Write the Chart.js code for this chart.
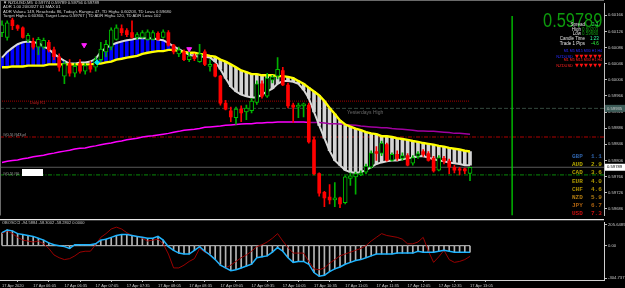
<!DOCTYPE html>
<html><head><meta charset="utf-8">
<script src="https://cdn.jsdelivr.net/npm/chart.js@4.4.1/dist/chart.umd.min.js"></script>
<style>
html,body{margin:0;padding:0;background:#000;width:625px;height:288px;overflow:hidden}
#wrap{position:relative;width:625px;height:288px;background:#000}
canvas{position:absolute;left:0}
.t{position:absolute;white-space:pre;line-height:1;font-family:"Liberation Sans",Arial,sans-serif;z-index:2}
.m{font-family:"Liberation Mono","DejaVu Sans Mono",monospace;font-weight:bold;font-size:6px}
</style></head><body>
<div id="wrap">
<canvas id="main" width="625" height="219" style="top:0;width:625px;height:219px"></canvas>
<canvas id="sub" width="625" height="69" style="top:219px;width:625px;height:69px"></canvas>

<div class="t" style="left:3px;top:1px;font-size:4.2px;color:#d8d8d8">▼ NZDUSD,M5  0.59774 0.59789 0.59756 0.59789</div>
<div class="t" style="left:3px;top:5.3px;font-size:4.2px;color:#d8d8d8">ADR 1.00 20/03/27 01 MAX 01</div>
<div class="t" style="left:3px;top:9.5px;font-size:4.2px;color:#d8d8d8">ADR Value= 149, Reached= 86, Today's Range= 47, TD High= 0.60203, TD Low= 0.59680</div>
<div class="t" style="left:3px;top:13.5px;font-size:4.2px;color:#d8d8d8">Target High= 0.60360, Target Low= 0.59767 | TD ADR High= 120, TD ADR Low= 102</div>

<div class="t" style="right:23px;top:9.5px;font-size:20px;color:#0d9a0d;transform:scaleX(0.82);transform-origin:right top">0.59789</div>
<div class="t" style="right:40px;top:23px;font-size:4.5px;color:#e0e0e0">Spread</div>
<div class="t" style="left:592px;top:23px;font-size:4.5px;color:#30ff60">2.3</div>
<div class="t" style="right:44px;top:27.7px;font-size:4.5px;color:#e0e0e0">High</div>
<div class="t" style="left:582px;top:27.7px;font-size:4.5px;color:#109a10">0.60203</div>
<div class="t" style="right:44px;top:32px;font-size:4.5px;color:#e0e0e0">Low</div>
<div class="t" style="left:582px;top:32px;font-size:4.5px;color:#109a10">0.59680</div>
<div class="t" style="right:40px;top:37px;font-size:4.5px;color:#e0e0e0">Candle Time</div>
<div class="t" style="left:590px;top:37px;font-size:4.5px;color:#30ffa0">1:23</div>
<div class="t" style="right:40px;top:42px;font-size:4.5px;color:#e0e0e0">Trade 1 Pips</div>
<div class="t" style="left:591px;top:42px;font-size:4.5px;color:#30ff40">-4.6</div>

<div class="t" style="right:23px;top:50px;font-size:3.6px;color:#2a2aff">M1 M5 M15 M30 H1 H4</div>
<div class="t" style="right:52px;top:54.5px;font-size:4px;color:#2a2aff">NZDUSD</div>
<div class="t" style="left:575px;top:53.5px;font-size:5px;color:#ff1010;letter-spacing:0.7px;font-family:'DejaVu Sans'">▼▼▼▼▼▼</div>
<div class="t" style="right:23px;top:59px;font-size:3.6px;color:#ff2020">M1 M5 M15 M30 H1 H4</div>
<div class="t" style="right:52px;top:63.5px;font-size:4px;color:#ff2020">NZDUSD</div>
<div class="t" style="left:575px;top:62.5px;font-size:5px;color:#ff1010;letter-spacing:0.7px;font-family:'DejaVu Sans'">▼▼▼▼▼▼</div>

<div class="t m" style="left:572px;top:154px;color:#2f62a8">GBP</div><div class="t m" style="left:591px;top:154px;color:#2f62a8">1.1</div>
<div class="t m" style="left:572px;top:162.2px;color:#b0a400">AUD</div><div class="t m" style="left:591px;top:162.2px;color:#b0a400">2.9</div>
<div class="t m" style="left:572px;top:170.4px;color:#b0a000">CAD</div><div class="t m" style="left:591px;top:170.4px;color:#b0a000">3.6</div>
<div class="t m" style="left:572px;top:178.6px;color:#b09a00">EUR</div><div class="t m" style="left:591px;top:178.6px;color:#b09a00">4.0</div>
<div class="t m" style="left:572px;top:186.8px;color:#b09000">CHF</div><div class="t m" style="left:591px;top:186.8px;color:#b09000">4.6</div>
<div class="t m" style="left:572px;top:195px;color:#b07a10">NZD</div><div class="t m" style="left:591px;top:195px;color:#b07a10">5.9</div>
<div class="t m" style="left:572px;top:203.2px;color:#b06410">JPY</div><div class="t m" style="left:591px;top:203.2px;color:#b06410">6.7</div>
<div class="t m" style="left:572px;top:211.4px;color:#c81010">USD</div><div class="t m" style="left:591px;top:211.4px;color:#c81010">7.3</div>

<div class="t" style="left:30px;top:100.5px;font-size:4px;color:#c81e1e">Daily R1</div>
<div class="t" style="left:347px;top:109.5px;font-size:5px;color:#6a6a6a">Yesterdays High</div>
<div class="t" style="left:3px;top:133px;font-size:4px;color:#a8a8a8">#(0,5)#(43,pl</div>
<div class="t" style="left:3px;top:172px;font-size:4px;color:#a8a8a8">#(0,5)#(0</div>
<div style="position:absolute;left:22px;top:169px;width:21px;height:7px;background:#fff;z-index:2"></div>
<div class="t" style="left:2px;top:221px;font-size:4px;color:#c8c8c8">OBOSCCI -94.5884 -58.3002 -58.2802 0.0000</div>
</div>
<script>
// ---------- DATA ----------
const opens = [0.60123,0.60111,0.60154,0.60140,0.60135,0.60104,0.60101,0.60087,0.60087,0.60099,
0.60080,0.60063,0.60015,0.60046,0.60022,0.60046,0.60027,0.60041,0.60037,0.60056,
0.60075,0.60087,0.60106,0.60133,0.60128,0.60123,0.60111,0.60111,0.60106,0.60106,
0.60121,0.60111,0.60123,0.60092,0.60070,0.60075,0.60056,0.60065,0.60051,0.60075,
0.60039,0.60044,0.60015,0.59948,0.59929,0.59912,0.59933,0.59926,0.59929,0.59950,
0.59996,0.59965,0.60005,0.60015,0.60029,0.59993,0.59943,0.59938,0.59941,0.59943,
0.59857,0.59773,0.59727,0.59715,0.59708,0.59713,0.59701,0.59761,0.59765,0.59770,
0.59777,0.59789,0.59828,0.59823,0.59845,0.59806,0.59821,0.59811,0.59818,0.59799,
0.59816,0.59828,0.59823,0.59811,0.59782,0.59811,0.59804,0.59789,0.59785,0.59785,
0.59774];
const highs = [0.60152,0.60152,0.60159,0.60142,0.60137,0.60121,0.60109,0.60111,0.60109,0.60104,
0.60087,0.60070,0.60051,0.60056,0.60046,0.60056,0.60046,0.60051,0.60063,0.60099,
0.60104,0.60135,0.60142,0.60142,0.60133,0.60152,0.60123,0.60128,0.60130,0.60128,
0.60125,0.60130,0.60128,0.60094,0.60087,0.60080,0.60075,0.60070,0.60094,0.60080,
0.60056,0.60046,0.60017,0.59955,0.59938,0.59938,0.59941,0.59943,0.59960,0.60003,
0.60003,0.60022,0.60017,0.60061,0.60037,0.59998,0.59948,0.59948,0.59948,0.59948,
0.59864,0.59775,0.59729,0.59746,0.59751,0.59715,0.59768,0.59775,0.59777,0.59780,
0.59797,0.59830,0.59840,0.59854,0.59849,0.59825,0.59830,0.59825,0.59823,0.59818,
0.59828,0.59833,0.59828,0.59816,0.59818,0.59816,0.59809,0.59794,0.59789,0.59787,
0.59789];
const lows = [0.60113,0.60104,0.60130,0.60128,0.60109,0.60099,0.60082,0.60068,0.60082,0.60075,
0.60056,0.60027,0.59996,0.60015,0.60013,0.60022,0.60020,0.60025,0.60027,0.60051,
0.60063,0.60080,0.60104,0.60116,0.60113,0.60109,0.60106,0.60109,0.60104,0.60104,
0.60104,0.60109,0.60089,0.60070,0.60063,0.60053,0.60051,0.60053,0.60049,0.60041,
0.60027,0.60013,0.59943,0.59931,0.59902,0.59895,0.59902,0.59907,0.59924,0.59945,
0.59960,0.59962,0.59998,0.60008,0.59991,0.59936,0.59900,0.59912,0.59914,0.59849,
0.59770,0.59717,0.59691,0.59698,0.59691,0.59689,0.59698,0.59744,0.59722,0.59768,
0.59773,0.59787,0.59806,0.59818,0.59804,0.59804,0.59806,0.59806,0.59792,0.59794,
0.59811,0.59816,0.59804,0.59777,0.59780,0.59797,0.59773,0.59775,0.59770,0.59773,
0.59756];
const closes = [0.60142,0.60147,0.60140,0.60133,0.60111,0.60116,0.60087,0.60106,0.60104,0.60080,
0.60063,0.60037,0.60046,0.60022,0.60039,0.60027,0.60041,0.60032,0.60056,0.60082,
0.60094,0.60130,0.60135,0.60123,0.60118,0.60111,0.60118,0.60123,0.60125,0.60123,
0.60106,0.60125,0.60092,0.60075,0.60080,0.60056,0.60065,0.60058,0.60070,0.60044,
0.60044,0.60015,0.59948,0.59933,0.59914,0.59933,0.59924,0.59936,0.59953,0.59996,
0.59965,0.60010,0.60013,0.60032,0.59993,0.59941,0.59938,0.59943,0.59945,0.59852,
0.59773,0.59725,0.59713,0.59708,0.59713,0.59698,0.59765,0.59768,0.59773,0.59775,
0.59792,0.59825,0.59823,0.59849,0.59806,0.59821,0.59811,0.59818,0.59794,0.59813,
0.59823,0.59821,0.59806,0.59780,0.59813,0.59804,0.59789,0.59782,0.59782,0.59780,
0.59789];
const fastMA = [0.60061,0.60075,0.60085,0.60094,0.60099,0.60101,0.60099,0.60097,0.60089,0.60082,
0.60070,0.60061,0.60053,0.60046,0.60046,0.60049,0.60049,0.60051,0.60058,0.60075,
0.60085,0.60092,0.60097,0.60101,0.60104,0.60106,0.60109,0.60109,0.60109,0.60109,
0.60106,0.60104,0.60097,0.60089,0.60082,0.60075,0.60068,0.60065,0.60063,0.60063,
0.60061,0.60051,0.60032,0.60010,0.59989,0.59977,0.59969,0.59965,0.59962,0.59962,
0.59969,0.59977,0.59984,0.59996,0.60003,0.60003,0.60001,0.59996,0.59981,0.59960,
0.59926,0.59893,0.59861,0.59830,0.59806,0.59794,0.59782,0.59777,0.59775,0.59777,
0.59782,0.59789,0.59797,0.59801,0.59804,0.59806,0.59806,0.59809,0.59811,0.59813,
0.59816,0.59816,0.59813,0.59809,0.59806,0.59804,0.59801,0.59799,0.59797,0.59794,
0.59794];
const slowMA = [0.60037,0.60037,0.60039,0.60039,0.60039,0.60041,0.60041,0.60041,0.60041,0.60044,
0.60044,0.60044,0.60044,0.60044,0.60044,0.60044,0.60044,0.60044,0.60046,0.60046,
0.60049,0.60051,0.60056,0.60058,0.60061,0.60063,0.60065,0.60070,0.60073,0.60075,
0.60077,0.60077,0.60080,0.60080,0.60077,0.60075,0.60073,0.60073,0.60070,0.60068,
0.60065,0.60063,0.60056,0.60051,0.60044,0.60037,0.60029,0.60025,0.60020,0.60020,
0.60017,0.60017,0.60017,0.60015,0.60015,0.60013,0.60010,0.60003,0.59996,0.59986,
0.59977,0.59967,0.59953,0.59936,0.59921,0.59905,0.59895,0.59890,0.59885,0.59881,
0.59876,0.59873,0.59871,0.59866,0.59866,0.59864,0.59861,0.59859,0.59857,0.59854,
0.59852,0.59849,0.59847,0.59845,0.59842,0.59840,0.59837,0.59835,0.59833,0.59830,
0.59828];
const longMA = [0.59801,0.59804,0.59806,0.59807,0.59810,0.59812,0.59815,0.59817,0.59819,0.59822,
0.59824,0.59827,0.59829,0.59831,0.59834,0.59836,0.59837,0.59840,0.59842,0.59845,
0.59847,0.59849,0.59852,0.59854,0.59857,0.59859,0.59861,0.59864,0.59866,0.59867,
0.59869,0.59871,0.59873,0.59876,0.59878,0.59881,0.59882,0.59883,0.59885,0.59888,
0.59889,0.59890,0.59891,0.59893,0.59894,0.59895,0.59896,0.59897,0.59897,0.59899,
0.59899,0.59900,0.59900,0.59901,0.59901,0.59901,0.59901,0.59901,0.59901,0.59900,
0.59900,0.59900,0.59899,0.59897,0.59897,0.59896,0.59895,0.59894,0.59893,0.59891,
0.59890,0.59889,0.59888,0.59887,0.59887,0.59885,0.59884,0.59883,0.59882,0.59881,
0.59879,0.59879,0.59878,0.59878,0.59877,0.59876,0.59875,0.59873,0.59873,0.59872,
0.59871];
const oscMain = [115.2,139.9,131.7,107.0,98.8,90.5,82.3,65.8,49.4,24.7,
8.2,0,-8.2,-24.7,8.2,8.2,8.2,8.2,16.5,49.4,
57.6,74.1,90.5,98.8,98.8,90.5,82.3,74.1,65.8,65.8,
82.3,49.4,-8.2,-41.2,-65.8,-74.1,-74.1,-41.2,-8.2,-49.4,
-82.3,-123.5,-172.8,-197.5,-222.2,-214.0,-197.5,-181.1,-164.6,-107.0,
-98.8,-90.5,-57.6,-16.5,-49.4,-107.0,-148.1,-139.9,-139.9,-164.6,
-238.7,-271.6,-263.4,-230.4,-205.8,-189.3,-164.6,-148.1,-131.7,-123.5,
-107.0,-90.5,-74.1,-74.1,-74.1,-74.1,-65.8,-65.8,-65.8,-65.8,
-49.4,-57.6,-57.6,-57.6,-49.4,-41.2,-49.4,-57.6,-57.6,-57.6,
-58.3];
const oscSignal = [107.0,131.7,107.0,74.1,49.4,41.2,32.9,41.2,16.5,-24.7,
-82.3,-107.0,-123.5,-115.2,-90.5,-57.6,-49.4,-49.4,8.2,74.1,
107.0,148.1,164.6,148.1,115.2,90.5,82.3,65.8,41.2,49.4,
57.6,16.5,-74.1,-197.5,-197.5,-172.8,-139.9,-115.2,-24.7,-57.6,
-74.1,-123.5,-172.8,-197.5,-172.8,-139.9,-107.0,-82.3,-49.4,-8.2,
8.2,32.9,65.8,107.0,41.2,-16.5,-65.8,-65.8,-65.8,-139.9,
-205.8,-214.0,-197.5,-156.4,-123.5,-90.5,-74.1,-57.6,-41.2,-24.7,
0,41.2,74.1,107.0,90.5,82.3,74.1,57.6,16.5,16.5,
32.9,74.1,-49.4,-148.1,-98.8,-41.2,-123.5,-148.1,-139.9,-123.5,
-94.59];
const timeLabels = ["17 Apr 2020","17 Apr 06:05","17 Apr 06:35","17 Apr 07:05","17 Apr 07:35","17 Apr 08:05","17 Apr 08:35","17 Apr 09:05","17 Apr 09:35","17 Apr 10:05","17 Apr 10:35","17 Apr 11:05","17 Apr 11:35","17 Apr 12:05","17 Apr 12:35","17 Apr 13:05"];
const timeTickBars = [0,6,12,18,24,30,36,42,48,54,60,66,72,78,84,90];
const priceTicks = [0.59686,0.59726,0.59766,0.59806,0.59846,0.59886,0.59926,0.59966,0.60006,0.60046,0.60086,0.60126,0.60166];
const dailyR1 = 0.59953, yesterdayHigh = 0.59935, fiboLevel = 0.59864, greenLevel = 0.59770;
const bidPrice = 0.59789;
const arrowDown = [[15.8,0.60092],[36,0.60082]];
const arrowCyan = [[18.3,0.60049]];
const vLineBar = 98.1, vLineTop = 0.60164;
const SUB_MAX = 205.6489, SUB_MIN = -304.7377;

// ---------- CHART ----------
Chart.defaults.font.family = '"Liberation Sans", Arial, sans-serif';
const X_MIN = -0.385, X_MAX = 115.77;
const P_MAX = 0.60195, P_MIN = 0.596694;
const idx = opens.map((_, i) => i);
const isBull = i => closes[i] >= opens[i];
const full = v => [{x: X_MIN, y: v}, {x: X_MAX, y: v}];

const mainDeco = {
  id: 'mainDeco',
  afterDraw(chart) {
    const ctx = chart.ctx, ys = chart.scales.y, ca = chart.chartArea;
    ctx.save();
    ctx.strokeStyle = '#6a6a6a'; ctx.lineWidth = 1;
    ctx.beginPath(); ctx.moveTo(0, 0.5); ctx.lineTo(ca.right, 0.5);
    ctx.moveTo(0.5, 0); ctx.lineTo(0.5, ca.bottom); ctx.stroke();
    const box = (price, bg, fg) => {
      const py = ys.getPixelForValue(price);
      ctx.fillStyle = bg; ctx.fillRect(ca.right + 1, py - 3.5, 20, 7);
      ctx.fillStyle = fg; ctx.font = '4.2px "Liberation Sans"'; ctx.textBaseline = 'middle'; ctx.textAlign = 'left';
      ctx.fillText(price.toFixed(5), ca.right + 3, py);
    };
    box(yesterdayHigh, '#3d5c58', '#d0d0d0');
    box(bidPrice, '#ffffff', '#000000');
    ctx.restore();
  }
};

new Chart(document.getElementById('main'), {
  type: 'bar',
  data: { datasets: [
    { type:'line', data: arrowDown.map(p=>({x:p[0],y:p[1]})), showLine:false, pointStyle:'triangle', rotation:180, pointRadius:2.8, pointBackgroundColor:'#ff20ff', pointBorderColor:'#ff20ff', order:0 },
    { type:'line', data: arrowCyan.map(p=>({x:p[0],y:p[1]})), showLine:false, pointStyle:'rectRot', pointRadius:2.5, pointBackgroundColor:'#00e8e8', pointBorderColor:'#00e8e8', order:0 },
    { type:'line', data:[{x:vLineBar,y:vLineTop},{x:vLineBar,y:P_MIN}], borderColor:'#00d000', borderWidth:1.3, pointRadius:0, order:1 },
    { type:'bar', data: idx.filter(i=>!isBull(i)).map(i=>({x:i,y:[opens[i],closes[i]]})), backgroundColor:'#ff0000', barThickness:3, grouped:false, minBarLength:1, order:2 },
    { type:'bar', data: idx.filter(isBull).map(i=>({x:i,y:[opens[i],closes[i]]})), backgroundColor:'#000000', borderColor:'#00c000', borderWidth:1, borderSkipped:false, barThickness:4, grouped:false, minBarLength:2, order:2 },
    { type:'bar', data: idx.map(i=>({x:i,y:[lows[i],highs[i]]})), backgroundColor: idx.map(i=>isBull(i)?'#00b000':'#ff0000'), barThickness:1, grouped:false, order:3 },
    { type:'line', data: idx.map(i=>({x:i,y:slowMA[i]})), borderColor:'#ffff00', borderWidth:2.4, pointRadius:0, tension:0, order:4 },
    { type:'line', data: idx.map(i=>({x:i,y:fastMA[i]})), borderColor:'#d8d8d8', borderWidth:2, pointRadius:0, tension:0, order:5 },
    { type:'line', data: idx.map(i=>({x:i,y:longMA[i]})), borderColor:'#ff00ff', borderWidth:1.5, pointRadius:0, tension:0, order:6,
      segment:{ borderColor: c => c.p0DataIndex >= 59 ? '#a000a0' : '#ff00ff' } },
    { type:'bar', data: idx.map(i=>({x:i,y:[fastMA[i],slowMA[i]]})), backgroundColor: idx.map(i=>fastMA[i]>slowMA[i]?'#0000ff':'#d4d4d4'), barThickness:3, grouped:false, order:8 },
    { type:'line', data:[{x:X_MIN,y:dailyR1},{x:90,y:dailyR1}], borderColor:'#a00000', borderWidth:1, borderDash:[1,1], pointRadius:0, order:9 },
    { type:'line', data: full(yesterdayHigh), borderColor:'#34483e', borderWidth:1, borderDash:[4,2], pointRadius:0, order:9 },
    { type:'line', data: full(fiboLevel), borderColor:'#b00000', borderWidth:1, borderDash:[4,1.5,1,1.5], pointRadius:0, order:9 },
    { type:'line', data: full(bidPrice), borderColor:'#5a5a5a', borderWidth:1.2, pointRadius:0, order:9 },
    { type:'line', data: full(greenLevel), borderColor:'#0a8a0a', borderWidth:1, borderDash:[4,1.5,1,1.5], pointRadius:0, order:9 }
  ]},
  options: {
    responsive:false, devicePixelRatio:1, animation:false,
    layout:{ padding:0, autoPadding:false },
    plugins:{ legend:{display:false}, tooltip:{enabled:false} },
    scales:{
      x:{ type:'linear', min:X_MIN, max:X_MAX, display:false, offset:false },
      y:{ type:'linear', position:'right', min:P_MIN, max:P_MAX,
          afterFit: s => { s.width = 21; },
          afterBuildTicks: s => { s.ticks = priceTicks.map(v=>({value:v})); },
          ticks:{ callback: v => v.toFixed(5), color:'#c8c8c8', font:{size:4.2}, padding:1, autoSkip:false },
          grid:{ drawOnChartArea:false, tickLength:3, color:'#bdbdbd' },
          border:{ display:true, color:'#bdbdbd', width:1 } }
    }
  },
  plugins:[mainDeco]
});

const subDeco = {
  id:'subDeco',
  afterDraw(chart){
    const ctx = chart.ctx, ca = chart.chartArea;
    ctx.save(); ctx.strokeStyle = '#e8e8e8'; ctx.lineWidth = 1.2;
    ctx.beginPath(); ctx.moveTo(0, 0.6); ctx.lineTo(ca.right, 0.6); ctx.stroke(); ctx.restore();
  }
};

new Chart(document.getElementById('sub'), {
  type:'bar',
  data:{ datasets:[
    { type:'line', data: idx.map(i=>({x:i,y:oscMain[i]})), borderColor:'#1eb4ff', borderWidth:1.5, pointRadius:0, tension:0, order:1 },
    { type:'line', data: idx.map(i=>({x:i,y:oscSignal[i]})), borderColor:'#9a0000', borderWidth:1, pointRadius:0, tension:0, order:2 },
    { type:'line', data: idx.map(i=>({x:i,y:0})), borderColor:'#c8c8c8', borderWidth:1, pointRadius:0, order:3 },
    { type:'bar', data: idx.map(i=>({x:i,y:oscMain[i]})), backgroundColor:'#b4b4b4', barThickness:1, grouped:false, order:4 }
  ]},
  options:{
    responsive:false, devicePixelRatio:1, animation:false,
    layout:{ padding:{top:1,left:0,right:0,bottom:0}, autoPadding:false },
    plugins:{ legend:{display:false}, tooltip:{enabled:false} },
    scales:{
      x:{ type:'linear', position:'bottom', min:X_MIN, max:X_MAX, offset:false,
          afterFit: s => { s.height = 8; },
          afterBuildTicks: s => { s.ticks = timeTickBars.map(v=>({value:v})); },
          ticks:{ callback:(v,k)=>timeLabels[k], align:'start', maxRotation:0, autoSkip:false, color:'#c8c8c8', font:{size:4}, padding:1 },
          grid:{ drawOnChartArea:false, tickLength:2, color:'#bdbdbd' },
          border:{ display:true, color:'#d0d0d0', width:1 } },
      y:{ type:'linear', position:'right', min:SUB_MIN, max:SUB_MAX,
          afterFit: s => { s.width = 21; },
          afterBuildTicks: s => { const pp = (SUB_MAX-SUB_MIN)/60; s.ticks = [{value:SUB_MAX-2*pp},{value:0},{value:SUB_MIN+2*pp}]; },
          ticks:{ callback: v => v > 100 ? SUB_MAX.toFixed(4) : (v < -100 ? SUB_MIN.toFixed(4) : '0.00'), color:'#c8c8c8', font:{size:4.2}, padding:1, autoSkip:false },
          grid:{ drawOnChartArea:false, tickLength:3, color:'#bdbdbd' },
          border:{ display:true, color:'#d0d0d0', width:1 } }
    }
  },
  plugins:[subDeco]
});
</script>
</body></html>
